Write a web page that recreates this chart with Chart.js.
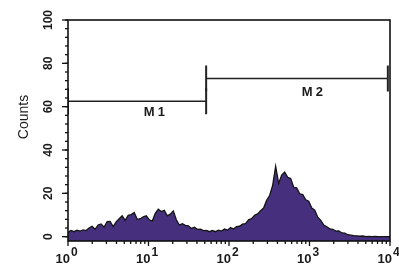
<!DOCTYPE html>
<html><head><meta charset="utf-8">
<script src="https://cdn.jsdelivr.net/npm/chart.js@4/dist/chart.umd.min.js"></script>
<style>html,body{margin:0;padding:0;background:#fff;}#wrap{width:399px;height:270px;position:relative;}</style>
</head><body><div id="wrap"><canvas id="c"></canvas></div>
<script>
// Histogram counts per channel bin (bins evenly spaced over 4 log decades, 10^0 .. 10^4)
const counts = [
  2.0,2.9,2.3,3.0,2.6,3.1,2.8,4.0,4.8,3.4,
  5.4,5.9,4.4,6.9,7.0,4.6,6.8,8.3,9.6,7.5,
  9.9,10.2,11.2,8.0,8.3,9.2,9.6,7.8,7.2,10.8,
  12.7,11.6,12.2,9.6,10.4,11.9,7.8,5.3,6.0,5.2,
  5.0,3.8,4.4,3.4,3.5,2.8,2.9,2.3,2.9,2.3,
  3.0,2.6,3.5,3.0,4.2,3.5,4.6,4.8,5.8,6.0,
  7.8,8.3,9.9,10.5,12.0,13.2,16.8,19.0,23.6,32.5,
  24.6,28.4,29.8,27.4,26.8,22.8,22.5,19.8,19.4,17.0,
  16.4,13.2,12.2,9.0,7.5,5.3,4.6,3.6,3.4,2.6,
  2.7,1.7,1.6,0.9,0.7,0.5,0.4,0.2,0.3,0.0,
  0.1,0.0,0.1,0.0,0.0,0.0,0.0,0.0
];
const decadeMin = 1, decadeMax = 10000;
const decadeTicks = [1, 10, 100, 1000, 10000];
const decadeExponents = ['0', '1', '2', '3', '4'];
const countTicks = [0, 20, 40, 60, 80, 100];
const countTickLabels = ['0', '20', '40', '60', '80', '100'];
const countMinorStep = 4;
const yTitle = 'Counts';

// Markers
const markerNames = ['M1', 'M2'];
const markerStart = [1, 52];
const markerEnd = [52, 9400];
const markerLevel = [62.5, 73];
const markerLabelX = [12, 1100];
const markerLabelY = [57.4, 66.7];
const markerTickHalf = 6;

const nBins = counts.length;
const histPoints = counts.map((c, i) => ({ x: Math.pow(10, 4 * i / (nBins - 1)), y: c }));

const datasets = [{
  data: histPoints,
  fill: 'start',
  backgroundColor: '#46307e',
  borderColor: '#141414',
  borderWidth: 1.3,
  pointRadius: 0,
  tension: 0,
  order: 2
}];
markerNames.forEach((m, k) => {
  const s = markerStart[k], e = markerEnd[k], l = markerLevel[k];
  const style = { borderColor: '#222', pointRadius: 0, fill: false, showLine: true, order: 1 };
  datasets.push(Object.assign({ data: [{x: s, y: l}, {x: e, y: l}], borderWidth: 1.6 }, style));
  datasets.push(Object.assign({ data: [{x: s, y: l - markerTickHalf}, {x: s, y: l + markerTickHalf}], borderWidth: 2 }, style));
  datasets.push(Object.assign({ data: [{x: e, y: l - markerTickHalf}, {x: e, y: l + markerTickHalf}], borderWidth: 2 }, style));
});

const FONT = 'Liberation Sans, Arial, sans-serif';

const decor = {
  id: 'decor',
  afterDraw(chart) {
    const ctx = chart.ctx, a = chart.chartArea;
    const xs = chart.scales.x, ys = chart.scales.y;
    ctx.save();
    ctx.strokeStyle = '#111';
    ctx.lineWidth = 1.6;
    ctx.strokeRect(a.left, a.top, a.right - a.left, a.bottom - a.top);
    ctx.lineWidth = 1.3;
    for (let v = 0; v <= 100; v += countMinorStep) {
      const py = ys.getPixelForValue(v);
      ctx.beginPath(); ctx.moveTo(a.left, py); ctx.lineTo(a.left - 3, py); ctx.stroke();
    }
    countTicks.forEach(v => {
      const py = ys.getPixelForValue(v);
      ctx.beginPath(); ctx.moveTo(a.left, py); ctx.lineTo(a.left - 6, py); ctx.stroke();
    });
    for (let d = 0; d < decadeTicks.length - 1; d++) {
      for (let m = 2; m <= 9; m++) {
        const px = xs.getPixelForValue(decadeTicks[d] * m);
        ctx.beginPath(); ctx.moveTo(px, a.bottom); ctx.lineTo(px, a.bottom + 3); ctx.stroke();
      }
    }
    decadeTicks.forEach(v => {
      const px = xs.getPixelForValue(v);
      ctx.beginPath(); ctx.moveTo(px, a.bottom); ctx.lineTo(px, a.bottom + 5); ctx.stroke();
    });
    ctx.fillStyle = '#1a1a1a';
    ctx.font = 'bold 12px ' + FONT;
    ctx.textAlign = 'center'; ctx.textBaseline = 'middle';
    countTicks.forEach((v, i) => {
      const py = ys.getPixelForValue(v);
      ctx.save(); ctx.translate(a.left - 19, py); ctx.rotate(-Math.PI / 2);
      ctx.fillText(countTickLabels[i], 0, 0); ctx.restore();
    });
    ctx.save(); ctx.translate(24, 117); ctx.rotate(-Math.PI / 2);
    ctx.font = '14px ' + FONT; ctx.fillText(yTitle, 0, 0); ctx.restore();
    decadeTicks.forEach((v, i) => {
      const px = xs.getPixelForValue(v);
      ctx.font = 'bold 13px ' + FONT; ctx.textAlign = 'right'; ctx.textBaseline = 'alphabetic';
      ctx.fillText('10', px + 2, a.bottom + 22);
      ctx.font = 'bold 12px ' + FONT; ctx.textAlign = 'left';
      ctx.fillText(decadeExponents[i], px + 3, a.bottom + 15);
    });
    ctx.font = 'bold 13px ' + FONT; ctx.textAlign = 'center'; ctx.textBaseline = 'middle';
    ctx.letterSpacing = '3px';
    markerNames.forEach((m, k) => {
      ctx.fillText(m, xs.getPixelForValue(markerLabelX[k]) + 1, ys.getPixelForValue(markerLabelY[k]));
    });
    ctx.restore();
  }
};

new Chart(document.getElementById('c'), {
  type: 'line',
  data: { datasets },
  options: {
    responsive: true,
    maintainAspectRatio: false,
    animation: false,
    layout: { padding: { left: 68, right: 9, top: 20, bottom: 29 } },
    plugins: { legend: { display: false }, tooltip: { enabled: false } },
    scales: {
      x: { type: 'logarithmic', min: decadeMin, max: decadeMax,
           ticks: { display: false }, grid: { display: false, drawTicks: false },
           border: { display: false } },
      y: { type: 'linear', min: -2, max: 100,
           ticks: { display: false }, grid: { display: false, drawTicks: false },
           border: { display: false } }
    }
  },
  plugins: [decor]
});
</script></body></html>
